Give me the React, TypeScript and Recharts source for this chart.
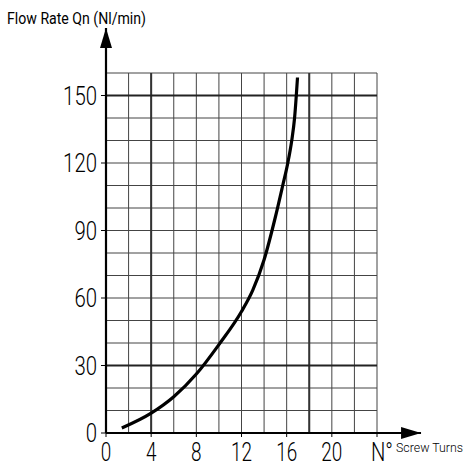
import React from "react";
import { LineChart, Line, XAxis, YAxis, ReferenceLine } from "recharts";

const turns = [1.4, 4, 6, 8, 10, 12, 13, 14, 15, 15.65, 16.1, 16.45, 16.7, 16.96];
const flow = [2.2, 8.8, 16.1, 26.2, 39.3, 54, 63.5, 77, 96, 110, 120, 130, 140, 158];

const xTicks = [0, 4, 8, 12, 16, 20, 24];
const yTicks = [0, 30, 60, 90, 120, 150];
const gridX = [2, 4, 6, 8, 10, 12, 14, 16, 18, 20, 22, 24];
const gridY = [10, 20, 30, 40, 50, 60, 70, 80, 90, 100, 110, 120, 130, 140, 150, 160];
const boldX = [4, 18];
const boldY = [30, 150];

const data = turns.map((t, i) => ({ turns: t, flow: flow[i] }));

const FONT = "Roboto, 'DejaVu Sans', sans-serif";

// narrow text: squeeze glyphs to a fixed advance per character
const Narrow = ({ x, y, dy, size, per, anchor, children }: any) => {
  const s = String(children);
  return (
    <text
      x={x}
      y={y}
      dy={dy}
      textAnchor={anchor || "start"}
      fontFamily={FONT}
      fontWeight={300}
      fontSize={size}
      fill="#000"
      textLength={s.length * per}
      lengthAdjust="spacingAndGlyphs"
    >
      {s}
    </text>
  );
};

const ArrowLine = (props: any) => {
  const { x1, y1, x2, y2 } = props;
  const vertical = Math.abs(x1 - x2) < 1;
  const head = vertical
    ? `${x2},${y2} ${x2 - 6},${y2 + 20} ${x2 + 6},${y2 + 20}`
    : `${x2},${y2} ${x2 - 20},${y2 - 6} ${x2 - 20},${y2 + 6}`;
  return (
    <g>
      <line x1={x1} y1={y1} x2={x2} y2={y2} stroke="#000" strokeWidth={2.2} />
      <polygon points={head} fill="#000" />
    </g>
  );
};

const XTick = (props: any) => {
  const { x, y, payload } = props;
  if (payload.value === 24) {
    return (
      <g>
        <Narrow x={x - 6} y={y} dy="0.71em" size={25} per={11}>N°</Narrow>
        <Narrow x={x + 19} y={y + 8.5} size={13} per={6.1}>Screw Turns</Narrow>
      </g>
    );
  }
  return (
    <Narrow x={x} y={y} dy="0.71em" size={25} per={10.5} anchor="middle">
      {payload.value}
    </Narrow>
  );
};

const YTick = (props: any) => {
  const { x, y, payload } = props;
  return (
    <Narrow x={x} y={y} dy="0.36em" size={25} per={11.3} anchor="end">
      {payload.value}
    </Narrow>
  );
};

export default function App() {
  return (
    <div style={{ position: "absolute", left: 0, top: 0, width: 470, height: 468, background: "#fff" }}>
      <svg width={470} height={30} style={{ position: "absolute", left: 0, top: 0 }}>
        <text
          x={7}
          y={24}
          fontFamily={FONT}
          fontWeight={400}
          fontSize={16}
          fill="#000"
          textLength={139}
          lengthAdjust="spacingAndGlyphs"
        >
          Flow Rate Qn (Nl/min)
        </text>
      </svg>
      <LineChart
        width={470}
        height={468}
        data={data}
        margin={{ top: 73, right: 93, left: 0, bottom: 0 }}
        style={{ position: "absolute", left: 0, top: 0 }}
      >
        <XAxis
          dataKey="turns"
          type="number"
          domain={[0, 24]}
          ticks={xTicks}
          height={35}
          axisLine={false}
          tickLine={{ stroke: "#000" }}
          tickSize={4}
          tickMargin={6}
          tick={<XTick />}
          interval={0}
        />
        <YAxis
          type="number"
          domain={[0, 160]}
          ticks={yTicks}
          width={106}
          axisLine={false}
          tickLine={{ stroke: "#000" }}
          tickSize={5}
          tickMargin={4}
          interval={0}
          tick={<YTick />}
        />
        {gridX.map((v) => (
          <ReferenceLine key={"gx" + v} x={v} stroke="#444" strokeWidth={1} />
        ))}
        {gridY.map((v) => (
          <ReferenceLine key={"gy" + v} y={v} stroke="#444" strokeWidth={1} />
        ))}
        {boldX.map((v) => (
          <ReferenceLine key={"bx" + v} x={v} stroke="#333" strokeWidth={2} />
        ))}
        {boldY.map((v) => (
          <ReferenceLine key={"by" + v} y={v} stroke="#222" strokeWidth={1.8} />
        ))}
        <ReferenceLine
          segment={[{ x: 0, y: 0 }, { x: 0, y: 180 }]}
          ifOverflow="visible"
          shape={ArrowLine}
        />
        <ReferenceLine
          segment={[{ x: 0, y: 0 }, { x: 27.9, y: 0 }]}
          ifOverflow="visible"
          shape={ArrowLine}
        />
        <Line
          dataKey="flow"
          type="monotone"
          stroke="#000"
          strokeWidth={3.2}
          dot={false}
          isAnimationActive={false}
        />
      </LineChart>
    </div>
  );
}
